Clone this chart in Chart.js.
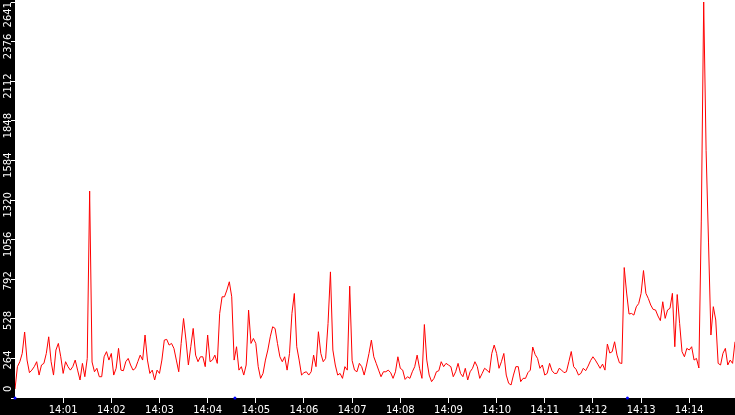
<!DOCTYPE html>
<html>
<head>
<meta charset="utf-8">
<script src="https://cdn.jsdelivr.net/npm/chart.js@4.4.0/dist/chart.umd.min.js"></script>
<style>
  html, body { margin: 0; padding: 0; background: #000; }
  canvas { display: block; }
</style>
</head>
<body>
<canvas id="rateChart" width="735" height="415" style="width:735px;height:415px"></canvas>
<script>
// one sample every 3 seconds, starting at 14:00:00
const stepSec = 3;
const rate = [
  60, 209, 242, 297, 440, 253, 169, 186, 209, 242,
  153, 220, 231, 297, 408, 242, 153, 320, 364, 275,
  164, 242, 209, 186, 209, 253, 186, 120, 231, 142,
  264, 1380, 240, 175, 198, 142, 142, 275,
  309, 253, 297, 153, 198, 331, 186, 182, 242, 264,
  220, 186, 198, 242, 286, 253, 420, 253, 164, 186,
  120, 186, 164, 253, 386, 391, 353, 364, 331, 253,
  175, 364, 530, 386, 220, 342, 464,
  286, 242, 275, 275, 209, 420, 242, 253, 286, 231,
  564, 675, 675, 720, 775, 675, 253, 342, 186, 209,
  153, 220, 586, 364, 397, 364, 209, 131, 164, 253,
  320, 408, 475, 464, 364, 275, 242, 275,
  186, 297, 564, 697, 342, 253, 153, 169, 175, 153,
  175, 286, 209, 442, 297, 242, 264, 497, 841, 320,
  220, 153, 164, 131, 209, 186, 746, 250, 186, 175,
  231, 209, 153, 220, 297, 386, 275,
  231, 186, 142, 175, 175, 186, 169, 131, 175, 275,
  198, 186, 124, 142, 131, 175, 209, 286, 198, 131,
  490, 253, 153, 109, 131, 175, 182, 242, 209, 231,
  220, 209, 142, 175, 231, 164, 142, 198,
  120, 175, 198, 242, 209, 131, 164, 198, 186, 169,
  297, 353, 297, 198, 242, 297, 153, 98, 87, 153,
  209, 209, 109, 131, 131, 169, 186, 340, 290, 264,
  198, 220, 153, 164, 231, 182, 164,
  164, 198, 186, 169, 175, 242, 310, 209, 191, 153,
  164, 198, 182, 213, 249, 275, 253, 226, 198, 226,
  186, 360, 300, 309, 375, 286, 235, 230, 870, 700,
  560, 564, 553, 608, 630, 697, 850,
  698, 664, 620, 591, 587, 547, 516, 642, 531, 587,
  598, 698, 342, 690, 498, 309, 275, 331, 320, 342,
  253, 264, 200, 1180, 2641, 1650, 1040, 420, 609, 520,
  231, 220, 298, 331, 220, 253, 231, 375
];

// small blue marks on the time axis (seconds after 14:00:00)
const markerSecs = [0, 274, 763];

const yTicks = [0, 264, 528, 792, 1056, 1320, 1584, 1848, 2112, 2376, 2641];
const xTickSecs = [60, 120, 180, 240, 300, 360, 420, 480, 540, 600, 660, 720, 780, 840];
const xTickLabels = ['14:01', '14:02', '14:03', '14:04', '14:05', '14:06', '14:07',
  '14:08', '14:09', '14:10', '14:11', '14:12', '14:13', '14:14'];

const fontFamily = '"DejaVu Sans", Verdana, sans-serif';

// black frame, white plot panel
const panelBg = {
  id: 'panelBg',
  beforeDraw(chart) {
    const { ctx, chartArea: a, width, height } = chart;
    ctx.save();
    ctx.fillStyle = '#000';
    ctx.fillRect(0, 0, width, height);
    ctx.fillStyle = '#fff';
    ctx.fillRect(a.left, 0, width - a.left, a.bottom);
    ctx.restore();
  }
};

// rotated y labels: text ends a little above its tick and runs down,
// pushed back inside the strip at both ends
const yLabels = {
  id: 'yLabels',
  afterDraw(chart) {
    const { ctx, chartArea: a } = chart;
    const y = chart.scales.y;
    ctx.save();
    ctx.font = '10px ' + fontFamily;
    ctx.fillStyle = '#fff';
    ctx.textAlign = 'right';
    ctx.textBaseline = 'alphabetic';
    yTicks.forEach(v => {
      const text = String(v);
      const len = ctx.measureText(text).width;
      let top = y.getPixelForValue(v) - 8;
      top = Math.min(Math.max(top, a.top), a.bottom - 6 - len);
      ctx.save();
      ctx.translate(10.5, top);
      ctx.rotate(-Math.PI / 2);
      ctx.fillText(text, 0, 0);
      ctx.restore();
    });
    ctx.restore();
  }
};

new Chart(document.getElementById('rateChart'), {
  type: 'line',
  data: {
    datasets: [{
      data: rate.map((v, i) => ({ x: i * stepSec, y: v })),
      borderColor: '#ff0000',
      borderWidth: 1,
      pointRadius: 0,
      tension: 0,
      fill: false
    }, {
      data: markerSecs.map(s => ({ x: s, y: 0 })),
      showLine: false,
      pointRadius: 1.5,
      pointBorderWidth: 0,
      backgroundColor: '#0000ff',
      clip: false
    }]
  },
  options: {
    responsive: false,
    animation: false,
    devicePixelRatio: 1,
    layout: { autoPadding: false, padding: { top: 2, left: 0, right: 0, bottom: 0 } },
    plugins: {
      legend: { display: false },
      tooltip: { enabled: false }
    },
    scales: {
      x: {
        type: 'linear',
        min: 0,
        max: (rate.length - 1) * stepSec,
        afterBuildTicks: s => { s.ticks = xTickSecs.map(v => ({ value: v })); },
        afterFit: s => { s.height = 17; },
        border: { display: false },
        grid: { drawOnChartArea: false, color: '#fff', tickLength: 5 },
        ticks: {
          color: '#fff',
          font: { family: fontFamily, size: 10 },
          padding: 1,
          maxRotation: 0,
          autoSkip: false,
          callback: (v, i) => xTickLabels[i]
        }
      },
      y: {
        min: 0,
        max: 2641,
        afterBuildTicks: s => { s.ticks = yTicks.map(v => ({ value: v })); },
        afterFit: s => { s.width = 15; },
        border: { display: false },
        grid: { drawOnChartArea: false, color: '#fff', tickLength: 4 },
        ticks: { display: false }
      }
    }
  },
  plugins: [panelBg, yLabels]
});
</script>
</body>
</html>
